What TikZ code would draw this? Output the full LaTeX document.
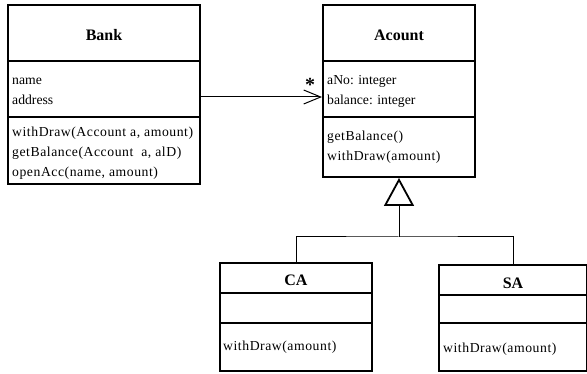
\documentclass[tikz,border=0pt]{standalone}
\usepackage{fontspec}
\setmainfont{Liberation Serif}
\newfontfamily\opfont{Liberation Serif}[LetterSpace=4]
\usetikzlibrary{positioning,arrows.meta}

\begin{document}
\begin{tikzpicture}[x=1pt,y=-1pt,
    classbox/.style={draw,line width=2pt,inner sep=0pt,anchor=north west},
    divider/.style={line width=2pt},
    cname/.style={font=\fontsize{16}{16}\selectfont\bfseries,inner sep=0pt},
    attrs/.style={font=\fontsize{13.7}{20}\selectfont,align=left,anchor=north west,inner sep=0pt},
    opers/.style={font=\opfont\fontsize{13.7}{20}\selectfont,align=left,anchor=north west,inner sep=0pt},
    link/.style={line width=1pt}]
  \useasboundingbox (0,0) rectangle (587,374);
  % class boxes
  \node[classbox,minimum width=192,minimum height=179] (bank)   at (7,4)     {};
  \node[classbox,minimum width=152,minimum height=172] (acount) at (322,4)   {};
  \node[classbox,minimum width=152,minimum height=108] (ca)     at (219,262) {};
  \node[classbox,minimum width=148,minimum height=106] (sa)     at (438,264) {};
  % compartments
  \draw[divider] (bank.west |- 0,61)    -- (bank.east |- 0,61);
  \draw[divider] (bank.west |- 0,117)   -- (bank.east |- 0,117);
  \draw[divider] (acount.west |- 0,61)  -- (acount.east |- 0,61);
  \draw[divider] (acount.west |- 0,117) -- (acount.east |- 0,117);
  \draw[divider] (ca.west |- 0,293)     -- (ca.east |- 0,293);
  \draw[divider] (ca.west |- 0,323)     -- (ca.east |- 0,323);
  \draw[divider] (sa.west |- 0,295)     -- (sa.east |- 0,295);
  \draw[divider] (sa.west |- 0,323)     -- (sa.east |- 0,323);
  % names
  \node[cname] (bankname)   at (bank.north |- 0,35)   {Bank};
  \node[cname] (acountname) at (acount.north |- 0,35) {Acount};
  \node[cname] (caname)     at (ca.north |- 0,280)    {CA};
  \node[cname] (saname)     at (sa.north |- 0,283)    {SA};
  % attributes and operations
  \node[attrs] (bankattr)   at (12,70)    {\strut name\\address};
  \node[opers] (bankops)    at (12,122)   {\strut withDraw(Account a, amount)\\getBalance(Account\ \ a, alD)\\openAcc(name, amount)};
  \node[attrs] (acountattr) at (327,70)   {\strut aNo: integer\\balance: integer};
  \node[opers] (acountops)  at (327,126.5) {\strut getBalance()\\withDraw(amount)};
  \node[opers] (caops)      at (223,336)  {\strut withDraw(amount)};
  \node[opers] (saops)      at (443,338)  {\strut withDraw(amount)};
  % association
  \draw[link,-{Straight Barb[length=17pt,width=14pt]}] (bank.east |- 0,97) -- (acount.west |- 0,97);
  \node[font=\fontsize{20}{20}\selectfont\bfseries,inner sep=0pt] (mult) at (310,85) {*};
  % generalization
  \coordinate (fork) at (acount.south |- 0,237);
  \draw[link] (ca.north) |- (fork) -| (sa.north);
  \draw[link,-{Triangle[open,length=28pt,width=30pt,line width=1.8pt]}] (fork) -- (acount.south);
\end{tikzpicture}
\end{document}
